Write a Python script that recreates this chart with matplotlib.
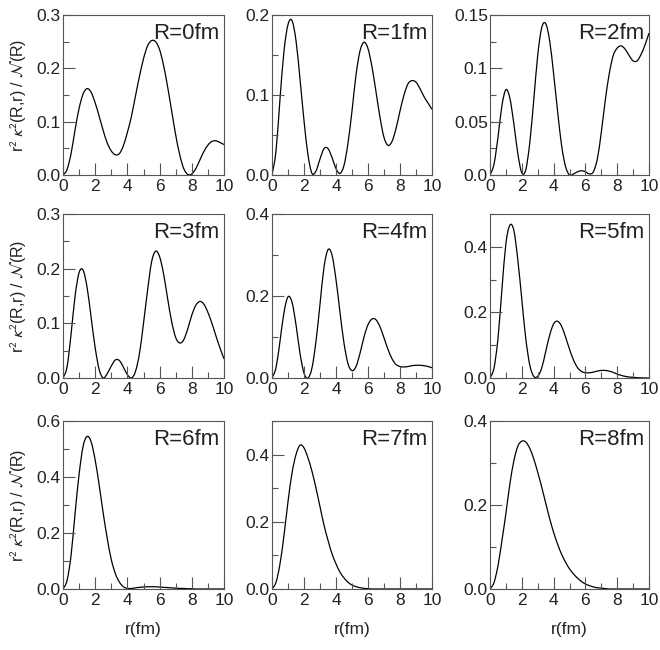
import numpy as np
import matplotlib
matplotlib.use("Agg")
import matplotlib.pyplot as plt
from matplotlib.ticker import MultipleLocator, FuncFormatter
from matplotlib.path import Path
from matplotlib.patches import PathPatch

plt.rcParams['font.family'] = ['Liberation Sans', 'DejaVu Sans']
plt.rcParams['mathtext.fontset'] = 'stixsans'

r = [i * 0.25 for i in range(41)]

R_labels = ["R=0fm", "R=1fm", "R=2fm", "R=3fm", "R=4fm", "R=5fm", "R=6fm", "R=7fm", "R=8fm"]

d_R0 = [0, 0.01, 0.04, 0.085, 0.125, 0.152, 0.162, 0.155, 0.135, 0.11, 0.083, 0.06, 0.045, 0.038,
        0.04, 0.055, 0.08, 0.11, 0.148, 0.185, 0.218, 0.242, 0.252, 0.25, 0.235, 0.205, 0.165, 0.12,
        0.075, 0.038, 0.012, 0.001, 0.002, 0.012, 0.028, 0.044, 0.056, 0.063, 0.064, 0.061, 0.057]
d_R1 = [0, 0.03, 0.095, 0.155, 0.188, 0.193, 0.168, 0.12, 0.068, 0.025, 0.002, 0.005, 0.02, 0.033,
        0.033, 0.022, 0.008, 0.002, 0.012, 0.04, 0.08, 0.125, 0.155, 0.166, 0.158, 0.135, 0.104, 0.072,
        0.047, 0.037, 0.042, 0.058, 0.08, 0.1, 0.114, 0.118, 0.116, 0.108, 0.098, 0.09, 0.082]
d_R2 = [0, 0.01, 0.035, 0.065, 0.08, 0.072, 0.048, 0.02, 0.002, 0.005, 0.03, 0.07, 0.112, 0.138,
        0.142, 0.126, 0.095, 0.06, 0.028, 0.008, 0.0, 0.001, 0.003, 0.004, 0.003, 0.001, 0.003, 0.015,
        0.04, 0.07, 0.095, 0.112, 0.119, 0.121, 0.118, 0.112, 0.107, 0.107, 0.113, 0.122, 0.133]
d_R3 = [0, 0.02, 0.08, 0.15, 0.193, 0.197, 0.165, 0.11, 0.055, 0.015, 0.0, 0.008, 0.022, 0.033,
        0.032, 0.02, 0.006, 0.0, 0.012, 0.045, 0.1, 0.16, 0.212, 0.232, 0.222, 0.19, 0.145, 0.103,
        0.074, 0.064, 0.07, 0.09, 0.115, 0.133, 0.14, 0.135, 0.12, 0.1, 0.077, 0.055, 0.035]
d_R4 = [0, 0.025, 0.09, 0.16, 0.198, 0.185, 0.13, 0.06, 0.012, 0.0, 0.025, 0.09, 0.18, 0.27,
        0.313, 0.3, 0.24, 0.16, 0.085, 0.035, 0.018, 0.028, 0.06, 0.1, 0.13, 0.144, 0.142, 0.125,
        0.098, 0.07, 0.047, 0.033, 0.028, 0.027, 0.028, 0.03, 0.031, 0.031, 0.03, 0.028, 0.025]
d_R5 = [0, 0.03, 0.12, 0.27, 0.41, 0.466, 0.45, 0.36, 0.24, 0.12, 0.04, 0.005, 0.005, 0.03,
        0.08, 0.13, 0.165, 0.173, 0.158, 0.125, 0.088, 0.055, 0.032, 0.02, 0.016, 0.016, 0.018, 0.021,
        0.023, 0.023, 0.021, 0.017, 0.012, 0.008, 0.005, 0.003, 0.002, 0.001, 0.0005, 0.0, 0.0]
d_R6 = [0, 0.03, 0.12, 0.27, 0.41, 0.51, 0.545, 0.525, 0.46, 0.37, 0.27, 0.18, 0.105, 0.055,
        0.025, 0.008, 0.002, 0.002, 0.004, 0.006, 0.007, 0.008, 0.008, 0.008, 0.007, 0.006, 0.005, 0.004,
        0.003, 0.002, 0.002, 0.001, 0.001, 0, 0, 0, 0, 0, 0, 0, 0]
d_R7 = [0, 0.02, 0.075, 0.16, 0.26, 0.345, 0.4, 0.428, 0.42, 0.39, 0.35, 0.3, 0.245, 0.19,
        0.145, 0.105, 0.075, 0.05, 0.033, 0.02, 0.012, 0.007, 0.004, 0.002, 0.001, 0, 0, 0,
        0, 0, 0, 0, 0, 0, 0, 0, 0, 0, 0, 0, 0]
d_R8 = [0, 0.015, 0.055, 0.115, 0.18, 0.25, 0.305, 0.34, 0.352, 0.35, 0.335, 0.31, 0.278, 0.243,
        0.205, 0.168, 0.135, 0.107, 0.083, 0.064, 0.048, 0.036, 0.026, 0.018, 0.012, 0.008, 0.005, 0.003,
        0.002, 0.001, 0, 0, 0, 0, 0, 0, 0, 0, 0, 0, 0]

series = [d_R0, d_R1, d_R2, d_R3, d_R4, d_R5, d_R6, d_R7, d_R8]
ymax = [0.3, 0.2, 0.15, 0.3, 0.4, 0.5, 0.6, 0.5, 0.4]
ymajor = [0.1, 0.1, 0.05, 0.1, 0.2, 0.2, 0.2, 0.2, 0.2]

W, H = 660, 650
fig = plt.figure(figsize=(W / 100, H / 100), dpi=100)

col_x = [(63, 224), (272, 432), (490, 649)]
row_y = [(15, 175), (214, 378), (421, 589)]

txt_col = '#222222'
spine_col = '#555555'


def fmt(v, pos):
    if abs(v) < 1e-9:
        return '0.0'
    return ('%.3f' % v).rstrip('0')


def smooth_path(xs, ys):
    """Catmull-Rom rendering of the polyline through the data points as cubic Bezier segments."""
    x = np.asarray(xs, float)
    y = np.asarray(ys, float)
    n = len(x)
    verts = [(x[0], y[0])]
    codes = [Path.MOVETO]
    for k in range(n - 1):
        xm, ym = (x[k - 1], y[k - 1]) if k > 0 else (x[k], y[k])
        xp, yp = (x[k + 2], y[k + 2]) if k + 2 < n else (x[k + 1], y[k + 1])
        c1 = (x[k] + (x[k + 1] - xm) / 6.0, y[k] + (y[k + 1] - ym) / 6.0)
        c2 = (x[k + 1] - (xp - x[k]) / 6.0, y[k + 1] - (yp - y[k]) / 6.0)
        verts += [c1, c2, (x[k + 1], y[k + 1])]
        codes += [Path.CURVE4] * 3
    return Path(verts, codes)


for i in range(9):
    rw, cl = divmod(i, 3)
    x0, x1 = col_x[cl]
    y0, y1 = row_y[rw]
    ax = fig.add_axes([x0 / W, 1 - y1 / H, (x1 - x0) / W, (y1 - y0) / H])
    patch = PathPatch(smooth_path(r, series[i]), facecolor='none', edgecolor='black',
                      lw=0.9, transform=ax.transData, clip_on=True)
    ax.add_patch(patch)
    ax.set_xlim(0, 10)
    ax.set_ylim(0, ymax[i])
    ax.xaxis.set_major_locator(MultipleLocator(2))
    ax.xaxis.set_minor_locator(MultipleLocator(1))
    ax.yaxis.set_major_locator(MultipleLocator(ymajor[i]))
    ax.yaxis.set_minor_locator(MultipleLocator(ymajor[i] / 2))
    ax.yaxis.set_major_formatter(FuncFormatter(fmt))
    ax.tick_params(which='both', direction='in', top=False, right=False,
                   color=spine_col, labelcolor=txt_col, labelsize=12.5, width=0.8)
    ax.tick_params(which='major', length=8.5)
    ax.tick_params(which='minor', length=4)
    ax.tick_params(axis='x', pad=3)
    ax.tick_params(axis='y', pad=1.5)
    for s in ax.spines.values():
        s.set_color(spine_col)
        s.set_linewidth(0.8)
    ax.text(0.97, 0.95, R_labels[i], transform=ax.transAxes, ha='right', va='top',
            fontsize=16, color=txt_col)
    if cl == 0:
        ax.set_ylabel(r'r$^2$ $\kappa^2$(R,r) / $\mathcal{N}$(R)', fontsize=11.5,
                      color=txt_col, labelpad=6)
    if rw == 2:
        ax.set_xlabel('r(fm)', fontsize=12.5, color=txt_col, labelpad=10)

fig.savefig('out.png', dpi=100)
